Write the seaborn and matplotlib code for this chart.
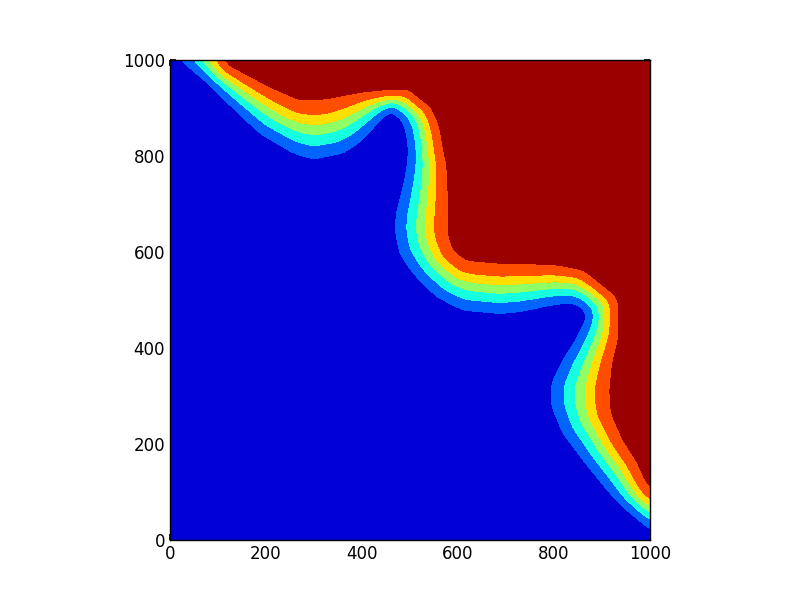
import numpy as np
import seaborn as sns
import matplotlib.pyplot as plt
from matplotlib.path import Path

# boundary between dark blue and light blue
lower_x = [15, 22, 49, 83, 118, 187, 257, 298, 361, 396, 424, 444, 462, 486, 493,
           498, 497, 490, 472, 469, 479, 507, 556, 611, 687, 729, 792, 833, 854,
           868, 868, 854, 840, 819, 795, 795, 819, 861, 905, 938, 979, 998, 1010]
lower_y = [1010, 1000, 979, 951, 915, 848, 806, 793, 806, 830, 861, 885, 896, 875, 854,
           819, 790, 750, 681, 646, 597, 556, 507, 479, 472, 476, 490, 496, 490,
           476, 458, 431, 406, 375, 327, 278, 222, 167, 113, 76, 42, 25, 12]

# boundary between orange and dark red
upper_x = [108, 115, 118, 153, 208, 271, 326, 396, 465, 500, 517, 542, 556, 563,
           569, 576, 580, 580, 590, 618, 687, 722, 805, 861, 903, 927, 934, 934,
           922, 917, 920, 944, 972, 986, 996, 1010]
upper_y = [1010, 1000, 990, 972, 944, 917, 920, 932, 937, 937, 920, 903, 875, 850,
           812, 785, 715, 640, 604, 583, 577, 577, 573, 562, 528, 510, 493, 420,
           368, 312, 264, 208, 165, 132, 111, 95]

# relative position of the inner band edges across the transition zone
band_pos = [0.0, 0.22, 0.40, 0.57, 0.72, 1.0]
band_val = [0.15, 0.30, 0.45, 0.60, 0.75, 0.90]
levels = [0.0, 0.15, 0.30, 0.45, 0.60, 0.75, 0.90, 1.05]


def dist_to_line(px, py, xs, ys):
    xs = np.asarray(xs, float)
    ys = np.asarray(ys, float)
    d = np.full(px.shape, np.inf)
    for i in range(len(xs) - 1):
        ax_, ay_ = xs[i], ys[i]
        bx, by = xs[i + 1], ys[i + 1]
        vx, vy = bx - ax_, by - ay_
        t = ((px - ax_) * vx + (py - ay_) * vy) / (vx * vx + vy * vy)
        t = np.clip(t, 0, 1)
        d = np.minimum(d, np.hypot(px - (ax_ + t * vx), py - (ay_ + t * vy)))
    return d


def blur(a, s):
    # small gaussian blur to round off the polyline corners
    r = int(3 * s)
    k = np.exp(-0.5 * (np.arange(-r, r + 1) / s) ** 2)
    k /= k.sum()
    p = np.pad(a, r, mode="edge")
    p = np.apply_along_axis(lambda v: np.convolve(v, k, "valid"), 0, p)
    p = np.apply_along_axis(lambda v: np.convolve(v, k, "valid"), 1, p)
    return p


xg = np.linspace(0, 1000, 501)
X, Y = np.meshgrid(xg, xg)
pts = np.column_stack([X.ravel(), Y.ravel()])

lo_poly = Path(list(zip(lower_x, lower_y)) + [(1030, -30), (-30, -30), (-30, 1030)])
hi_poly = Path(list(zip(upper_x, upper_y)) + [(1030, 1030)])
below = lo_poly.contains_points(pts).reshape(X.shape)
above = hi_poly.contains_points(pts).reshape(X.shape)

d_lo = dist_to_line(X, Y, lower_x, lower_y)
d_hi = dist_to_line(X, Y, upper_x, upper_y)
frac = d_lo / (d_lo + d_hi + 1e-9)
F = np.interp(frac, band_pos, band_val)
F[below] = np.clip(0.15 - 0.15 * d_lo[below] / 25, 0.01, None)
F[above] = np.clip(0.90 + 0.15 * d_hi[above] / 25, None, 1.04)
F = np.clip(blur(F, 4), 0.01, 1.04)

sns.set_theme(style="white")
plt.rcParams.update({
    "font.family": ["DejaVu Sans"],
    "font.size": 12,
    "xtick.labelsize": 12,
    "ytick.labelsize": 12,
    "axes.edgecolor": "black",
    "axes.linewidth": 1.0,
    "xtick.direction": "in",
    "ytick.direction": "in",
    "xtick.top": True,
    "ytick.right": True,
    "xtick.bottom": True,
    "ytick.left": True,
    "xtick.major.size": 4,
    "ytick.major.size": 4,
    "xtick.color": "black",
    "ytick.color": "black",
})

fig, ax = plt.subplots(figsize=(8, 6), dpi=100)
fig.subplots_adjust(left=0.125, right=0.9, bottom=0.1, top=0.9)
ax.contourf(X, Y, F, levels=levels, cmap=plt.get_cmap("jet"), vmin=0, vmax=1,
            antialiased=False)
ax.set_xlim(0, 1000)
ax.set_ylim(0, 1000)
ax.set_aspect("equal")
ax.set_xticks(range(0, 1001, 200))
ax.set_yticks(range(0, 1001, 200))
plt.savefig("out.png", dpi=100)
